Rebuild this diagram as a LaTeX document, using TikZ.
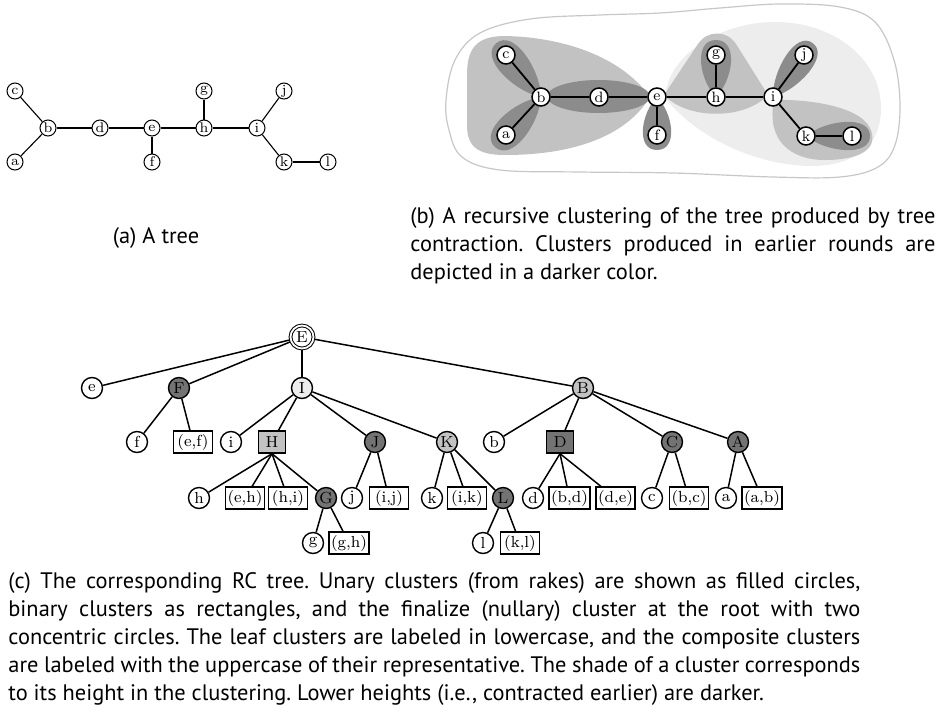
\documentclass[tikz,border=0pt]{standalone}
\usepackage{fontspec}
\newfontfamily\capfont{PT Sans}

\definecolor{clusterdark}{gray}{0.55}
\definecolor{clustermid}{gray}{0.76}
\definecolor{clusterlight}{gray}{0.93}
\definecolor{rcdark}{gray}{0.45}
\definecolor{rcmid}{gray}{0.76}
\definecolor{rclight}{gray}{0.93}

% teardrop shaped cluster: pinch point, direction, length, half width
\newcommand\tearshape[4]{%
  \fill[clusterdark, shift={#1}, rotate=#2] (0,0)
    .. controls (0.3*#3,#4) and (#3,1.35*#4) .. (#3,0)
    .. controls (#3,-1.35*#4) and (0.3*#3,-#4) .. (0,0) -- cycle;}

\begin{document}
\begin{tikzpicture}[x=0.5pt, y=-0.5pt,
    Vert/.style={circle, draw, fill=white, line width=0.5pt, inner sep=0pt,
      minimum size=8pt, font=\fontsize{7}{8}\selectfont},
    CVert/.style={Vert, line width=0.75pt, minimum size=9pt, font=\fontsize{7.5}{8}\selectfont},
    Leaf/.style={circle, draw, fill=white, line width=0.7pt, inner sep=0pt,
      minimum size=10.5pt, font=\fontsize{8}{9}\selectfont},
    Rake/.style={Leaf, fill=rcdark},
    Pair/.style={rectangle, draw, fill=white, line width=0.7pt, inner xsep=1pt,
      inner ysep=1.2pt, minimum height=11pt, minimum width=19.5pt,
      font=\fontsize{8}{9}\selectfont},
    Compress/.style={Pair, minimum width=13.5pt},
    Root/.style={Leaf, double, double distance=0.9pt, line width=0.5pt,
      minimum size=11.5pt, outer sep=0.7pt},
    Caption/.style={font=\capfont\fontsize{11.2}{14}\selectfont, inner sep=0pt,
      anchor=north west, align=justify}
  ]
\useasboundingbox (0,0) rectangle (940,722);
\frenchspacing

%% (a) the tree
\foreach \n/\x/\y in {a/15/162, b/48/128, c/15/91, d/100/128, e/152/128, f/152/162,
    g/204/91, h/204/128, i/257/128, j/284/91, k/284/162, l/328/162}
  \node[Vert] (t\n) at (\x,\y) {\n};
\foreach \u/\v in {a/b, c/b, b/d, d/e, e/h, h/i, i/j, i/k, k/l}
  \draw[line width=0.55pt] (t\u) -- (t\v);
\draw[line width=1.1pt] (te) -- (tf) (th) -- (tg);

\node[Caption, anchor=center, align=center] (capa) at (156,238) {(a) A tree};

%% (b) the clustering
\draw[black!22, line width=0.6pt] plot[smooth cycle, tension=0.6] coordinates {
  (446,100) (455,60) (480,33) (530,19) (600,15) (660,13) (720,8) (780,4) (840,7)
  (875,22) (894,60) (900,105) (895,145) (878,167) (840,177) (773,177) (673,173)
  (580,172) (500,170) (462,157) (449,130)};

% round 3
\fill[clusterlight] (665,97) .. controls (668,55) and (720,22) .. (775,22)
  .. controls (835,22) and (881,60) .. (881,108)
  .. controls (881,150) and (850,166) .. (810,166)
  .. controls (750,165) and (690,132) .. (665,97) -- cycle;
% round 2
\fill[clustermid] (650,97) .. controls (620,55) and (560,37) .. (505,36)
  .. controls (475,36) and (467,50) .. (467,75) -- (467,125)
  .. controls (467,147) and (478,155) .. (505,155)
  .. controls (570,155) and (625,138) .. (650,97) -- cycle;
\fill[clustermid] (664,95) -- (698,44) .. controls (707,30) and (727,30) .. (736,44)
  -- (768,95) .. controls (745,120) and (687,120) .. (664,95) -- cycle;
\fill[clustermid] (774,100) .. controls (800,99) and (858,104) .. (870,128)
  .. controls (880,150) and (858,160) .. (825,160)
  .. controls (790,160) and (766,140) .. (774,100) -- cycle;
% round 1
\tearshape{(541,97)}{129.8}{70}{17}
\tearshape{(541,97)}{227.4}{68}{17}
\tearshape{(657,97)}{270}{53}{16}
\tearshape{(716,97)}{90}{57}{17}
\tearshape{(773,97)}{53.6}{67}{16}
\tearshape{(806,136)}{0}{64}{16}
\fill[clusterdark] (598.5,96.5) ellipse [x radius=51.5, y radius=16.5];

\foreach \n/\x/\y in {a/506/135, b/541/97, c/506/55, d/599/97, e/657/97, f/657/135,
    g/716/55, h/716/97, i/773/97, j/804/55, k/806/136, l/852/136}
  \node[CVert] (c\n) at (\x,\y) {\n};
\foreach \u/\v in {a/b, c/b, b/d, d/e, e/h, h/i, i/j, i/k, k/l}
  \draw[line width=0.9pt] (c\u) -- (c\v);
\draw[line width=1.3pt] (ce) -- (cf) (ch) -- (cg);

\node[Caption, text width=262.5pt] (capb) at (410,207) {(b) A recursive clustering
  of the tree produced by tree\linebreak contraction. Clusters produced in earlier
  rounds are\linebreak depicted in a darker color.};

%% (c) the RC tree
\node[Root] (rE) at (302,337) {E};

\node[Leaf] (re) at (92,388) {e};
\node[Rake] (rF) at (179,388) {F};
\node[Leaf, fill=rclight] (rI) at (302,388) {I};
\node[Leaf, fill=rcmid] (rB) at (583,388) {B};

\node[Leaf] (rf) at (137,442) {f};
\node[Pair] (ref) at (193,442) {(e,f)};
\node[Leaf] (ri) at (231,442) {i};
\node[Compress, fill=rcmid] (rH) at (272,442) {H};
\node[Rake] (rJ) at (375,442) {J};
\node[Leaf, fill=rcmid] (rK) at (447,442) {K};
\node[Leaf] (rb) at (494,442) {b};
\node[Compress, fill=rcdark] (rD) at (560,442) {D};
\node[Rake] (rC) at (672,442) {C};
\node[Rake] (rA) at (738,442) {A};

\node[Leaf] (rh) at (199,498) {h};
\node[Pair] (reh) at (245,498) {(e,h)};
\node[Pair] (rhi) at (288,498) {(h,i)};
\node[Rake] (rG) at (326,498) {G};
\node[Leaf] (rj) at (352,498) {j};
\node[Pair] (rij) at (389,498) {(i,j)};
\node[Leaf] (rk) at (432,498) {k};
\node[Pair] (rik) at (467,498) {(i,k)};
\node[Rake] (rL) at (503,498) {L};
\node[Leaf] (rd) at (533,498) {d};
\node[Pair] (rbd) at (569.5,498) {(b,d)};
\node[Pair] (rde) at (615.5,498) {(d,e)};
\node[Leaf] (rc) at (652,498) {c};
\node[Pair] (rbc) at (689,498) {(b,c)};
\node[Leaf] (ra) at (726,498) {a};
\node[Pair] (rab) at (762,498) {(a,b)};

\node[Leaf] (rg) at (313,543) {g};
\node[Pair] (rgh) at (349,543) {(g,h)};
\node[Leaf] (rl) at (483,543) {l};
\node[Pair] (rkl) at (520,543) {(k,l)};

\begin{scope}[line width=0.75pt]
\foreach \p/\q in {rE/re, rE/rF, rE/rI, rE/rB, rF/rf, rF/ref, rI/ri, rI/rH, rI/rJ, rI/rK,
    rG/rg, rG/rgh, rJ/rj, rJ/rij, rK/rk, rK/rik, rK/rL, rL/rl, rL/rkl,
    rB/rb, rB/rD, rB/rC, rB/rA, rC/rc, rC/rbc, rA/ra, rA/rab}
  \draw (\p) -- (\q);
\foreach \p/\q in {rH/rh, rH/reh, rH/rhi, rH/rG, rD/rd, rD/rbd, rD/rde}
  \draw (\p.south) -- (\q);
\end{scope}

\node[Caption, text width=426pt] (capc) at (8,572) {(c) The corresponding RC tree.
  Unary clusters (from rakes) are shown as filled circles,\linebreak binary clusters
  as rectangles, and the finalize (nullary) cluster at the root with two\linebreak
  concentric circles. The leaf clusters are labeled in lowercase, and the composite
  clusters\linebreak are labeled with the uppercase of their representative. The shade
  of a cluster corresponds\linebreak to its height in the clustering. Lower heights
  (i.e., contracted earlier) are darker.};
\end{tikzpicture}
\end{document}
